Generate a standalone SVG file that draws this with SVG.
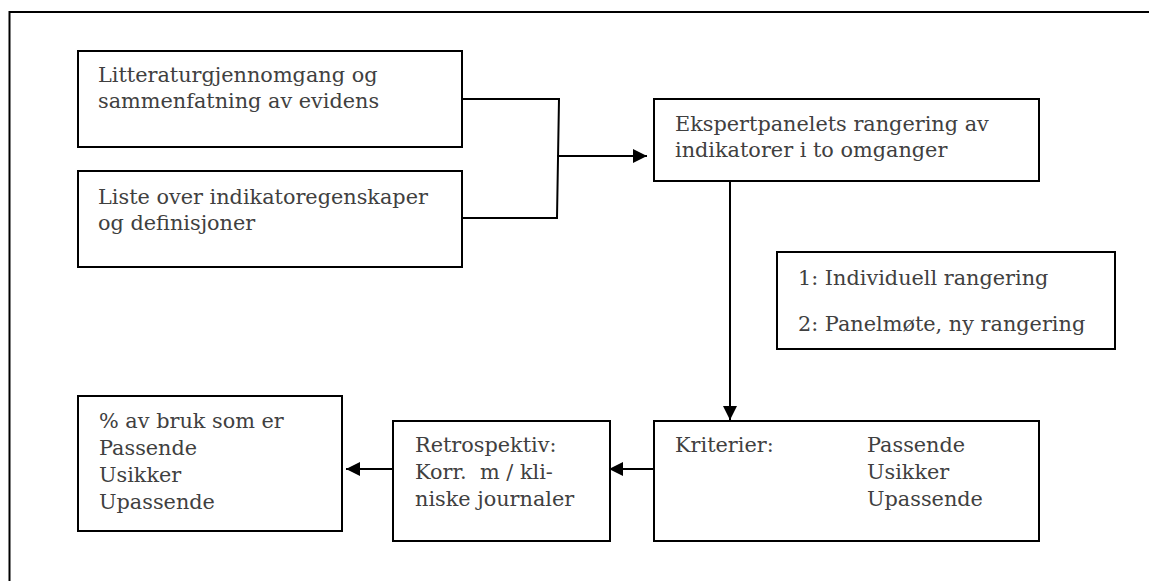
<svg xmlns="http://www.w3.org/2000/svg" width="1149" height="581" viewBox="0 0 1149 581">
<defs>
<marker id="ah" viewBox="0 0 10 10" refX="10" refY="5" markerWidth="15" markerHeight="14" markerUnits="userSpaceOnUse" orient="auto">
<path d="M0,0 L10,5 L0,10 Z" fill="#000"/>
</marker>
<style>
.box{fill:#fff;stroke:#000;stroke-width:2}
.t{font-family:"DejaVu Serif",serif;font-size:20.8px;fill:#404040}
.c{fill:none;stroke:#000;stroke-width:2}
</style>
</defs>
<rect width="1149" height="581" fill="#fff"/>
<path d="M9.5,581 V12 H1149" fill="none" stroke="#000" stroke-width="2"/>
<g id="connectors">
<path class="c" d="M462,99 H559 L557,218 H462"/>
<path class="c" d="M557,156 H647" marker-end="url(#ah)"/>
<path class="c" d="M730,181 V420" marker-end="url(#ah)"/>
<path class="c" d="M654,469 H609" marker-end="url(#ah)"/>
<path class="c" d="M393,469 H346" marker-end="url(#ah)"/>
</g>
<g id="lit">
<rect class="box" x="78" y="51" width="384" height="96"/>
<text class="t" x="98" y="82">Litteraturgjennomgang og</text>
<text class="t" x="98" y="108">sammenfatning av evidens</text>
</g>
<g id="liste">
<rect class="box" x="78" y="171" width="384" height="96"/>
<text class="t" x="98" y="204">Liste over indikatoregenskaper</text>
<text class="t" x="98" y="230">og definisjoner</text>
</g>
<g id="ekspert">
<rect class="box" x="654" y="99" width="385" height="82"/>
<text class="t" x="675" y="131">Ekspertpanelets rangering av</text>
<text class="t" x="675" y="157">indikatorer i to omganger</text>
</g>
<g id="runder">
<rect class="box" x="777" y="252" width="338" height="97"/>
<text class="t" x="798" y="285">1: Individuell rangering</text>
<text class="t" x="798" y="331">2: Panelmøte, ny rangering</text>
</g>
<g id="kriterier">
<rect class="box" x="654" y="421" width="385" height="120"/>
<text class="t" x="675" y="452">Kriterier:</text>
<text class="t" x="867" y="452">Passende</text>
<text class="t" x="867" y="479">Usikker</text>
<text class="t" x="867" y="506">Upassende</text>
</g>
<g id="retro">
<rect class="box" x="393" y="421" width="217" height="120"/>
<text class="t" x="415" y="452">Retrospektiv:</text>
<text class="t" x="415" y="479" xml:space="preserve">Korr.  m / kli-</text>
<text class="t" x="415" y="506">niske journaler</text>
</g>
<g id="prosent">
<rect class="box" x="78" y="396" width="264" height="135"/>
<text class="t" x="99" y="428">% av bruk som er</text>
<text class="t" x="99" y="455">Passende</text>
<text class="t" x="99" y="482">Usikker</text>
<text class="t" x="99" y="509">Upassende</text>
</g>
</svg>
